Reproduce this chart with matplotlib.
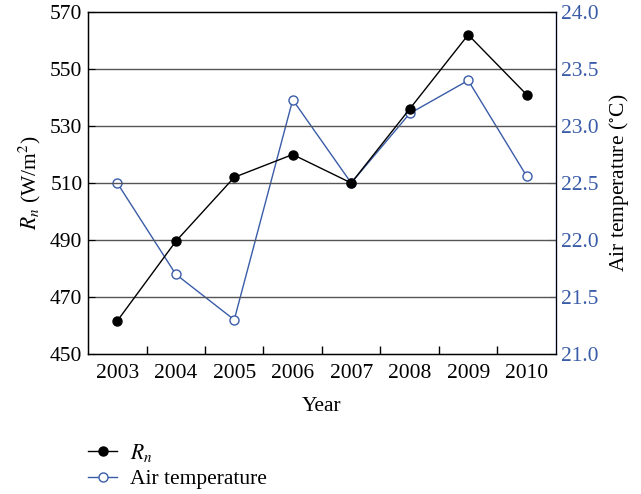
import matplotlib.pyplot as plt
import numpy as np
from matplotlib.ticker import FixedLocator

plt.rcParams['font.family'] = ['Liberation Serif', 'DejaVu Serif']
plt.rcParams['mathtext.fontset'] = 'stix'

years = [2003, 2004, 2005, 2006, 2007, 2008, 2009, 2010]
rn = [461.6, 489.5, 512.0, 520.0, 510.0, 536.0, 562.0, 541.0]
air_temp = [22.5, 21.7, 21.3, 23.23, 22.5, 23.11, 23.4, 22.56]

blue = '#3a5ca8'
fs = 15.5

fig = plt.figure(figsize=(6.41, 4.94), dpi=100)
ax = fig.add_axes([0.1373, 0.2834, 0.730, 0.6923])
ax2 = ax.twinx()

ax.set_zorder(ax2.get_zorder() + 1)
ax.patch.set_visible(False)

l1, = ax.plot(years, rn, color='black', lw=1.0, marker='o', ms=6.5,
              markerfacecolor='black', label='$R_n$')
l2, = ax2.plot(years, air_temp, color=blue, lw=1.0, marker='o', ms=6.5,
               markerfacecolor='white', markeredgecolor=blue, label='Air temperature')

ax.set_xlim(2002.5, 2010.5)
ax.set_ylim(450, 570)
ax.set_yticks(np.arange(450, 571, 20))
ax2.set_ylim(21.0, 24.0)
ax2.set_yticks(np.arange(21.0, 24.01, 0.5))
ax2.set_yticklabels(['%.1f' % v for v in np.arange(21.0, 24.01, 0.5)])

ax.set_xticks(years)
ax.xaxis.set_minor_locator(FixedLocator([y + 0.5 for y in years[:-1]]))
ax.tick_params(axis='x', which='major', length=0, labelsize=fs, pad=7)
ax.tick_params(axis='x', which='minor', direction='in', length=6, width=1)
ax.tick_params(axis='y', direction='in', length=5, labelsize=fs, pad=4)
ax2.tick_params(axis='y', direction='in', length=5, labelsize=fs, colors=blue, pad=4)

for y in np.arange(470, 570, 20):
    ax.axhline(y, color='#555555', lw=1.0, zorder=0)

ax2.spines['right'].set_color(blue)
for s in ['left', 'bottom', 'top']:
    ax.spines[s].set_linewidth(1.0)
ax2.spines['right'].set_linewidth(1.0)

ax.set_xlabel('Year', fontsize=fs, labelpad=10)
ax.set_ylabel('$R_n$ (W/m$^2$)', fontsize=fs, labelpad=5)
ax2.set_ylabel('Air temperature ($^{\\circ}$C)', fontsize=fs, labelpad=6)

fig.legend(handles=[l1, l2], loc='upper left', bbox_to_anchor=(0.124, 0.123),
           frameon=False, fontsize=fs, handlelength=1.35, handletextpad=0.6,
           labelspacing=0.25, borderaxespad=0)

fig.savefig('out.png', dpi=100)
